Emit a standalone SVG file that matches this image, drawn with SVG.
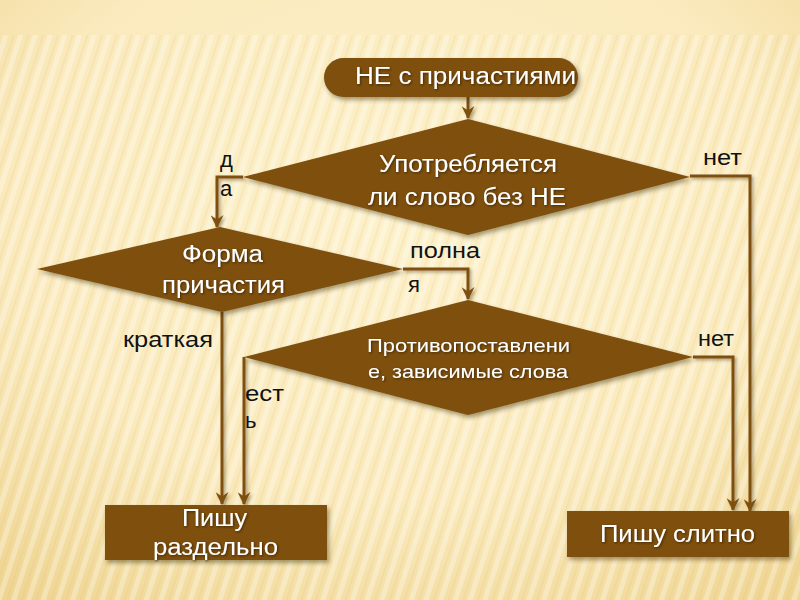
<svg xmlns="http://www.w3.org/2000/svg" width="800" height="600" viewBox="0 0 800 600">
<defs>
<radialGradient id="bg" cx="0.5" cy="0.35" r="0.8">
<stop offset="0" stop-color="#FDF1CB"/>
<stop offset="0.6" stop-color="#FAEABD"/>
<stop offset="1" stop-color="#EFD592"/>
</radialGradient>
<pattern id="stripes" width="14" height="14" patternUnits="userSpaceOnUse" patternTransform="rotate(18)">
<rect x="0" y="0" width="5" height="14" fill="#FFFFFF" fill-opacity="0.3"/>
<rect x="9" y="0" width="2" height="14" fill="#D9BB72" fill-opacity="0.15"/>
</pattern>
<filter id="sh" x="-10%" y="-10%" width="120%" height="130%">
<feDropShadow dx="2" dy="3" stdDeviation="2" flood-color="#3a2a0a" flood-opacity="0.45"/>
</filter>
<filter id="shc" filterUnits="userSpaceOnUse" x="0" y="0" width="800" height="600">
<feDropShadow dx="2" dy="2" stdDeviation="1.5" flood-color="#3a2a0a" flood-opacity="0.4"/>
</filter>
<filter id="tsh" x="-10%" y="-20%" width="120%" height="150%">
<feDropShadow dx="1" dy="1" stdDeviation="0.8" flood-color="#2a1a00" flood-opacity="0.7"/>
</filter>
<marker id="arr" viewBox="0 0 12 12" refX="11" refY="6" markerWidth="13" markerHeight="13" markerUnits="userSpaceOnUse" orient="auto">
<path d="M0,0 L12,6 L0,12 L4,6 Z" fill="#7E4F10"/>
</marker>
</defs>
<style>
.shape{fill:#7E4F10;filter:url(#sh);}
.wt{fill:#FFFFFF;font-family:"Liberation Sans",Arial,sans-serif;font-size:23px;filter:url(#tsh);}
.wts{fill:#FFFFFF;font-family:"Liberation Sans",Arial,sans-serif;font-size:19px;filter:url(#tsh);}
.bt{fill:#111111;font-family:"Liberation Sans",Arial,sans-serif;font-size:22px;}
.conn{fill:none;stroke:#7E4F10;stroke-width:3;marker-end:url(#arr);}
</style>
<rect x="0" y="0" width="800" height="600" fill="url(#bg)"/>
<rect x="0" y="35" width="800" height="565" fill="url(#stripes)"/>

<g id="connectors" filter="url(#shc)">
<path class="conn" d="M468,97 V118"/>
<path class="conn" d="M243,177 H217 V227"/>
<path class="conn" d="M690,176 H750 V511"/>
<path class="conn" d="M403,269 H468 V299"/>
<path class="conn" d="M222,312 V504"/>
<path class="conn" d="M244,357 V504"/>
<path class="conn" d="M693,357 H733 V510"/>
</g>

<g id="start">
<rect class="shape" x="324" y="58" width="254" height="39" rx="19.5"/>
<text class="wt" x="355" y="84" textLength="221" lengthAdjust="spacingAndGlyphs">НЕ с причастиями</text>
</g>

<g id="q1">
<polygon class="shape" points="468,119 690,177 468,235 243,177"/>
<text class="wt" x="379" y="172" textLength="178" lengthAdjust="spacingAndGlyphs">Употребляется</text>
<text class="wt" x="368" y="205" textLength="198" lengthAdjust="spacingAndGlyphs">ли слово без НЕ</text>
</g>

<g id="q2">
<polygon class="shape" points="220,227 403,269 222,312 37,269"/>
<text class="wt" x="182" y="262" textLength="81" lengthAdjust="spacingAndGlyphs">Форма</text>
<text class="wt" x="162" y="293" textLength="123" lengthAdjust="spacingAndGlyphs">причастия</text>
</g>

<g id="q3">
<polygon class="shape" points="468,300 693,357 468,415 244,357"/>
<text class="wts" x="367" y="352" textLength="203" lengthAdjust="spacingAndGlyphs">Противопоставлени</text>
<text class="wts" x="368" y="378" textLength="200" lengthAdjust="spacingAndGlyphs">е, зависимые слова</text>
</g>

<g id="separate">
<rect class="shape" x="105" y="505" width="222" height="55"/>
<text class="wt" x="182" y="526" textLength="65" lengthAdjust="spacingAndGlyphs">Пишу</text>
<text class="wt" x="153" y="555" textLength="125" lengthAdjust="spacingAndGlyphs">раздельно</text>
</g>

<g id="together">
<rect class="shape" x="567" y="511" width="222" height="46"/>
<text class="wt" x="600" y="542" textLength="155" lengthAdjust="spacingAndGlyphs">Пишу слитно</text>
</g>

<g id="labels">
<text class="bt" x="220" y="167">д</text>
<text class="bt" x="220" y="196">а</text>
<text class="bt" x="703" y="165" textLength="39" lengthAdjust="spacingAndGlyphs">нет</text>
<text class="bt" x="410" y="258" textLength="70" lengthAdjust="spacingAndGlyphs">полна</text>
<text class="bt" x="408" y="292">я</text>
<text class="bt" x="123" y="347" textLength="90" lengthAdjust="spacingAndGlyphs">краткая</text>
<text class="bt" x="698" y="346" textLength="36" lengthAdjust="spacingAndGlyphs">нет</text>
<text class="bt" x="245" y="401" textLength="39" lengthAdjust="spacingAndGlyphs">ест</text>
<text class="bt" x="245" y="428">ь</text>
</g>
</svg>
